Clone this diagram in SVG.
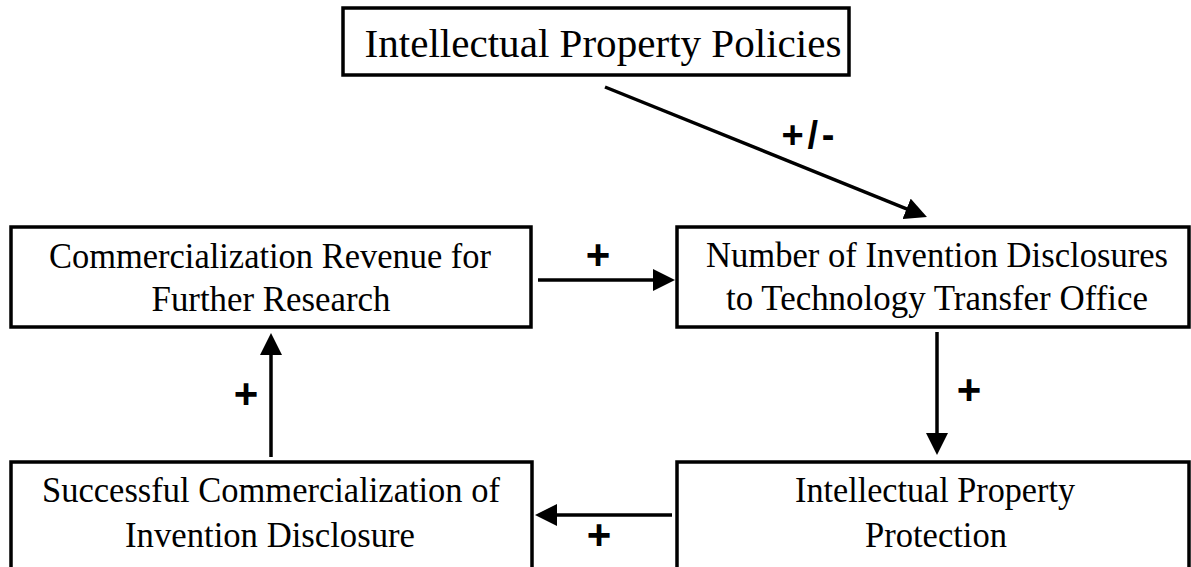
<svg xmlns="http://www.w3.org/2000/svg" width="1191" height="567" viewBox="0 0 1191 567">
<style>
.box{fill:#fff;stroke:#000;stroke-width:3.5}
.t{font-family:"Liberation Serif","Times New Roman",serif;font-size:36px;fill:#000;text-anchor:middle}
.tt{font-size:41px}
.lbl{font-family:"Liberation Sans",Arial,sans-serif;font-weight:bold;font-size:42px;fill:#000;text-anchor:middle}
.lbl2{font-size:38px}
.c{stroke:#000;stroke-width:3.5;fill:none;marker-end:url(#ah)}
</style>
<defs>
<marker id="ah" markerUnits="userSpaceOnUse" markerWidth="22" markerHeight="22" viewBox="0 0 22 22" refX="16" refY="11" orient="auto">
<path d="M0,0 L22,11 L0,22 z" fill="#000"/>
</marker>
</defs>
<rect width="1191" height="567" fill="#fff"/>
<g id="policies">
<rect class="box" x="343" y="8" width="506" height="67"/>
<text class="t tt" x="603" y="57" textLength="477" lengthAdjust="spacingAndGlyphs">Intellectual Property Policies</text>
</g>
<g id="revenue">
<rect class="box" x="11" y="227" width="520" height="100"/>
<text class="t" x="270" y="268" textLength="442" lengthAdjust="spacingAndGlyphs">Commercialization Revenue for</text>
<text class="t" x="271" y="311" textLength="239" lengthAdjust="spacingAndGlyphs">Further Research</text>
</g>
<g id="disclosures">
<rect class="box" x="677" y="227" width="512" height="100"/>
<text class="t" x="937" y="267" textLength="462" lengthAdjust="spacingAndGlyphs">Number of Invention Disclosures</text>
<text class="t" x="937" y="310" textLength="422" lengthAdjust="spacingAndGlyphs">to Technology Transfer Office</text>
</g>
<g id="commercialization">
<rect class="box" x="11" y="462" width="521" height="120"/>
<text class="t" x="271" y="502" textLength="458" lengthAdjust="spacingAndGlyphs">Successful Commercialization of</text>
<text class="t" x="270" y="547" textLength="290" lengthAdjust="spacingAndGlyphs">Invention Disclosure</text>
</g>
<g id="protection">
<rect class="box" x="677" y="462" width="512" height="120"/>
<text class="t" x="935" y="502" textLength="280" lengthAdjust="spacingAndGlyphs">Intellectual Property</text>
<text class="t" x="936" y="547" textLength="142" lengthAdjust="spacingAndGlyphs">Protection</text>
</g>
<g id="connectors">
<line class="c" x1="605" y1="87" x2="921.4" y2="214.8"/>
<line class="c" x1="538" y1="280" x2="669" y2="280"/>
<line class="c" x1="937" y1="332" x2="937" y2="449"/>
<line class="c" x1="672" y1="515" x2="541" y2="515"/>
<line class="c" x1="271" y1="457" x2="271" y2="339"/>
<text class="lbl lbl2" x="808" y="148" textLength="53" lengthAdjust="spacing">+/-</text>
<text class="lbl" x="598" y="269">+</text>
<text class="lbl" x="969" y="404">+</text>
<text class="lbl" x="599" y="549">+</text>
<text class="lbl" x="246" y="408">+</text>
</g>
</svg>
